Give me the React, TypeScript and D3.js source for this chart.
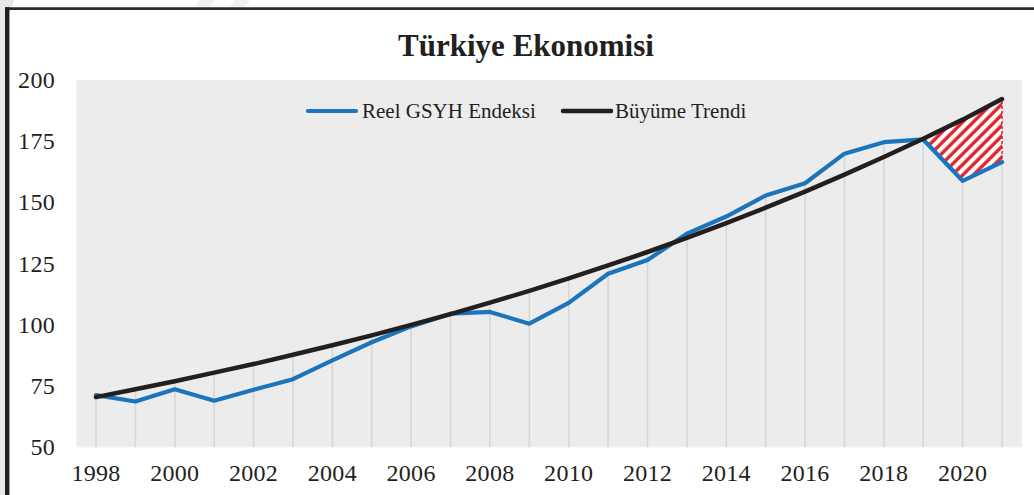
import React from "react";
import * as d3 from "d3";

const years = ["1998","1999","2000","2001","2002","2003","2004","2005","2006","2007","2008","2009","2010","2011","2012","2013","2014","2015","2016","2017","2018","2019","2020","2021"];
const gdpIndex = [71.2, 68.6, 73.6, 68.9, 73.4, 77.7, 85.4, 92.8, 99.3, 104.5, 105.2, 100.4, 108.9, 120.8, 126.4, 137.2, 144.2, 152.8, 157.8, 169.9, 174.6, 175.7, 158.8, 166.4];
const growthTrend = [70.4, 73.6, 76.9, 80.4, 83.9, 87.7, 91.6, 95.6, 99.9, 104.3, 109.0, 113.8, 118.9, 124.2, 129.7, 135.5, 141.5, 147.8, 154.4, 161.3, 168.5, 176.0, 183.8, 192.2];
const yTicks = [50, 75, 100, 125, 150, 175, 200];
const xTickLabels = ["1998","2000","2002","2004","2006","2008","2010","2012","2014","2016","2018","2020"];
const gapYears = ["2019","2020","2021"];
const title = "Türkiye Ekonomisi";
const seriesNames = ["Reel GSYH Endeksi", "Büyüme Trendi"];

const W = 1034, H = 495;
const plot = { left: 76.3, right: 1021.7, top: 80, bottom: 447 };
const BLUE = "#1c75bc";
const BLACK = "#231f20";
const RED = "#e3232c";
const FONT = "'Liberation Serif', 'Times New Roman', serif";

export default function App() {
  const x = d3.scaleBand<string>().domain(years).range([plot.left, plot.right]).padding(0);
  const cx = (yr: string) => (x(yr) as number) + x.bandwidth() / 2;
  const y = d3.scaleLinear().domain([50, 200]).range([plot.bottom, plot.top]);

  const line = d3.line<number>().x((_, i) => cx(years[i])).y((v) => y(v));
  const gapIdx = gapYears.map((g) => years.indexOf(g));
  const gapPts: [number, number][] = [
    ...gapIdx.map((i) => [cx(years[i]), y(growthTrend[i])] as [number, number]),
    ...gapIdx.slice().reverse().map((i) => [cx(years[i]), y(gdpIndex[i])] as [number, number]),
  ];
  const gapPath = "M" + gapPts.map((p) => p.join(",")).join("L") + "Z";

  return (
    <svg width={W} height={H} style={{ position: "absolute", left: 0, top: 0, display: "block" }}>
      <defs>
        <pattern id="hatch" width="7.5" height="7.5" patternUnits="userSpaceOnUse" patternTransform="rotate(45)">
          <rect width="7.5" height="7.5" fill="#ffffff" />
          <line x1="2" y1="0" x2="2" y2="7.5" stroke={RED} strokeWidth="3.4" />
        </pattern>
      </defs>
      <rect x={0} y={0} width={W} height={H} fill="#ffffff" />
      {/* outside decoration */}
      <rect x={0} y={0} width={5} height={H} fill="#e8e8e8" />
      <polygon points="0,0 14,0 5,30 0,45" fill="#e8e8e8" />
      <polygon points="200,0 215,0 210,7 195,7" fill="#f0f0f0" />
      <polygon points="235,0 250,0 245,7 230,7" fill="#f0f0f0" />
      {/* frame */}
      <line x1={5} y1={8.7} x2={W} y2={8.7} stroke="#2a2a2a" strokeWidth={2.8} />
      <line x1={7.2} y1={7.3} x2={7.2} y2={H} stroke={BLACK} strokeWidth={4.4} />

      {/* title */}
      <text x={526} y={56} textAnchor="middle" fontFamily={FONT} fontWeight="bold" fontSize={31} fill={BLACK}>{title}</text>

      {/* plot area */}
      <rect x={plot.left} y={plot.top} width={plot.right - plot.left} height={plot.bottom - plot.top} fill="#ececec" />
      <line x1={plot.left} x2={plot.right} y1={plot.bottom} y2={plot.bottom} stroke="#f6f6f6" strokeWidth={1.5} />

      {/* drop lines */}
      {years.map((yr, i) => (
        <line key={yr} x1={cx(yr)} x2={cx(yr)} y1={y(Math.max(gdpIndex[i], growthTrend[i]))} y2={plot.bottom}
          stroke="#d6d6d6" strokeWidth={1.6} />
      ))}

      {/* y ticks */}
      {yTicks.map((t) => (
        <text key={t} x={55} y={y(t) + 8} textAnchor="end" fontFamily={FONT} fontSize={24} letterSpacing={0.3} fill={BLACK}>{t}</text>
      ))}
      {/* x ticks */}
      {xTickLabels.map((t) => (
        <text key={t} x={cx(t)} y={481} textAnchor="middle" fontFamily={FONT} fontSize={24} letterSpacing={0.3} fill={BLACK}>{t}</text>
      ))}

      {/* gap hatch */}
      <path d={gapPath} fill="url(#hatch)" stroke={RED} strokeWidth={1.5} strokeDasharray="3,2" />

      {/* series */}
      <path d={line(gdpIndex) as string} fill="none" stroke={BLUE} strokeWidth={4.2} strokeLinejoin="round" strokeLinecap="round" />
      <path d={line(growthTrend) as string} fill="none" stroke={BLACK} strokeWidth={4.5} strokeLinejoin="round" strokeLinecap="round" />

      {/* legend */}
      <line x1={308} x2={356} y1={111} y2={111} stroke={BLUE} strokeWidth={4.2} strokeLinecap="round" />
      <text x={362} y={118} fontFamily={FONT} fontSize={21} fill={BLACK}>{seriesNames[0]}</text>
      <line x1={563} x2={611} y1={111} y2={111} stroke={BLACK} strokeWidth={4.5} strokeLinecap="round" />
      <text x={615} y={118} fontFamily={FONT} fontSize={21} fill={BLACK}>{seriesNames[1]}</text>
    </svg>
  );
}
